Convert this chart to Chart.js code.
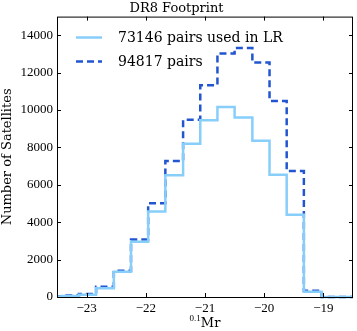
<!DOCTYPE html>
<html>
<head>
<meta charset="utf-8">
<script src="https://cdn.jsdelivr.net/npm/chart.js@4.4.1/dist/chart.umd.min.js"></script>
<style>
  html, body { margin: 0; padding: 0; background: #ffffff; }
  #wrap { width: 357px; height: 331px; }
</style>
</head>
<body>
<div id="wrap"><canvas id="chart"></canvas></div>
<script>
// Bin edges in 0.1Mr (read from the step positions)
const binEdges = [-23.71, -23.42, -23.13, -22.84, -22.54, -22.25, -21.96, -21.67, -21.37,
                  -21.08, -20.79, -20.50, -20.20, -19.91, -19.62, -19.33, -19.03, -18.74, -18.45];

// Counts per bin
const usedInLR = [10, 30, 60, 120, 465, 1350, 2955, 4570, 6510,
                  8200, 9460, 10170, 9600, 8360, 6545, 4395, 280, 3];
const allPairs = [15, 40, 80, 160, 555, 1410, 3080, 5020, 7275,
                  9477, 11330, 13020, 13320, 12540, 10490, 6740, 340, 5];

const seriesLabels = ["73146 pairs used in LR", "94817 pairs"];
const xTicks = [-23, -22, -21, -20, -19];
const yTicks = [0, 2000, 4000, 6000, 8000, 10000, 12000, 14000];

const serif = "'Liberation Serif', 'DejaVu Serif', serif";
const serifWide = "'DejaVu Serif', serif";

// Turn bin counts into step points (last edge repeats last value)
function toSteps(values) {
    const pts = values.map((v, i) => ({ x: binEdges[i], y: v }));
    pts.push({ x: binEdges[binEdges.length - 1], y: values[values.length - 1] });
    return pts;
}

// Frame, inward ticks, legend and x label
const framePlugin = {
    id: "framePlugin",
    afterDatasetsDraw(chart) {
        const { ctx, chartArea: a, scales } = chart;
        ctx.save();
        ctx.strokeStyle = "#000000";
        ctx.lineWidth = 1;
        ctx.strokeRect(a.left + 0.5, a.top + 0.5, a.right - a.left - 1, a.bottom - a.top);

        ctx.beginPath();
        xTicks.forEach(t => {
            const px = Math.round(scales.x.getPixelForValue(t)) + 0.5;
            ctx.moveTo(px, a.bottom); ctx.lineTo(px, a.bottom - 4);
            ctx.moveTo(px, a.top); ctx.lineTo(px, a.top + 4);
        });
        yTicks.forEach(t => {
            const py = Math.round(scales.y.getPixelForValue(t)) + 0.5;
            ctx.moveTo(a.left, py); ctx.lineTo(a.left + 4, py);
            ctx.moveTo(a.right, py); ctx.lineTo(a.right - 4, py);
        });
        ctx.stroke();

        // legend
        const ds = chart.data.datasets;
        const rows = [37.5, 61.5];
        ds.forEach((d, i) => {
            ctx.beginPath();
            ctx.strokeStyle = d.borderColor;
            ctx.lineWidth = d.borderWidth;
            ctx.setLineDash(d.borderDash || []);
            ctx.moveTo(76, rows[i]);
            ctx.lineTo(102, rows[i]);
            ctx.stroke();
            ctx.setLineDash([]);
            ctx.fillStyle = "#000000";
            ctx.font = "14px " + serifWide;
            ctx.textBaseline = "middle";
            ctx.textAlign = "left";
            ctx.fillText(d.label, 118, rows[i] + 1);
        });

        // x axis label with superscript
        const cx = (a.left + a.right) / 2;
        ctx.fillStyle = "#000000";
        ctx.textBaseline = "alphabetic";
        ctx.font = "9px " + serif;
        const supW = ctx.measureText("0.1").width;
        ctx.font = "13px " + serifWide;
        const mainW = ctx.measureText("Mr").width;
        const x0 = cx - (supW + mainW) / 2;
        ctx.font = "9px " + serif;
        ctx.fillText("0.1", x0, 321);
        ctx.font = "13px " + serifWide;
        ctx.fillText("Mr", x0 + supW, 327);
        ctx.restore();
    }
};

new Chart(document.getElementById("chart"), {
    type: "line",
    data: {
        datasets: [
            {
                label: seriesLabels[0],
                data: toSteps(usedInLR),
                stepped: "after",
                borderColor: "#87cefa",
                borderWidth: 2.5,
                pointRadius: 0,
                fill: false,
                clip: { left: 0, right: 0, top: 5, bottom: 5 }
            },
            {
                label: seriesLabels[1],
                data: toSteps(allPairs),
                stepped: "after",
                borderColor: "#2255d0",
                borderWidth: 2.5,
                borderDash: [7, 4],
                pointRadius: 0,
                fill: false,
                clip: { left: 0, right: 0, top: 5, bottom: 5 }
            }
        ]
    },
    options: {
        responsive: true,
        maintainAspectRatio: false,
        animation: false,
        layout: { padding: { left: 0, right: 4, top: 0, bottom: 0 } },
        plugins: {
            legend: { display: false },
            tooltip: { enabled: false },
            title: {
                display: true,
                text: "DR8 Footprint",
                color: "#000000",
                font: { family: serifWide, size: 13, weight: "normal", lineHeight: 1.2 },
                padding: { top: 1, bottom: 0 }
            }
        },
        scales: {
            x: {
                type: "linear",
                min: -23.5,
                max: -18.5,
                afterBuildTicks: s => { s.ticks = xTicks.map(v => ({ value: v })); },
                afterFit: s => { s.height = 34; },
                grid: { display: false, drawTicks: false },
                border: { display: false },
                ticks: {
                    color: "#000000",
                    padding: 4,
                    maxRotation: 0,
                    font: { family: serif, size: 13 },
                    callback: v => String(v).replace("-", "\u2212")
                }
            },
            y: {
                min: 0,
                max: 15000,
                afterBuildTicks: s => { s.ticks = yTicks.map(v => ({ value: v })); },
                afterFit: s => { s.width = 57; },
                grid: { display: false, drawTicks: false },
                border: { display: false },
                ticks: {
                    color: "#000000",
                    padding: 4,
                    font: { family: serif, size: 13 },
                    callback: v => String(v)
                },
                title: {
                    display: true,
                    text: "Number of Satellites",
                    color: "#000000",
                    font: { family: serifWide, size: 13 },
                    padding: { top: 0, bottom: 0 }
                }
            }
        }
    },
    plugins: [framePlugin]
});
</script>
</body>
</html>
